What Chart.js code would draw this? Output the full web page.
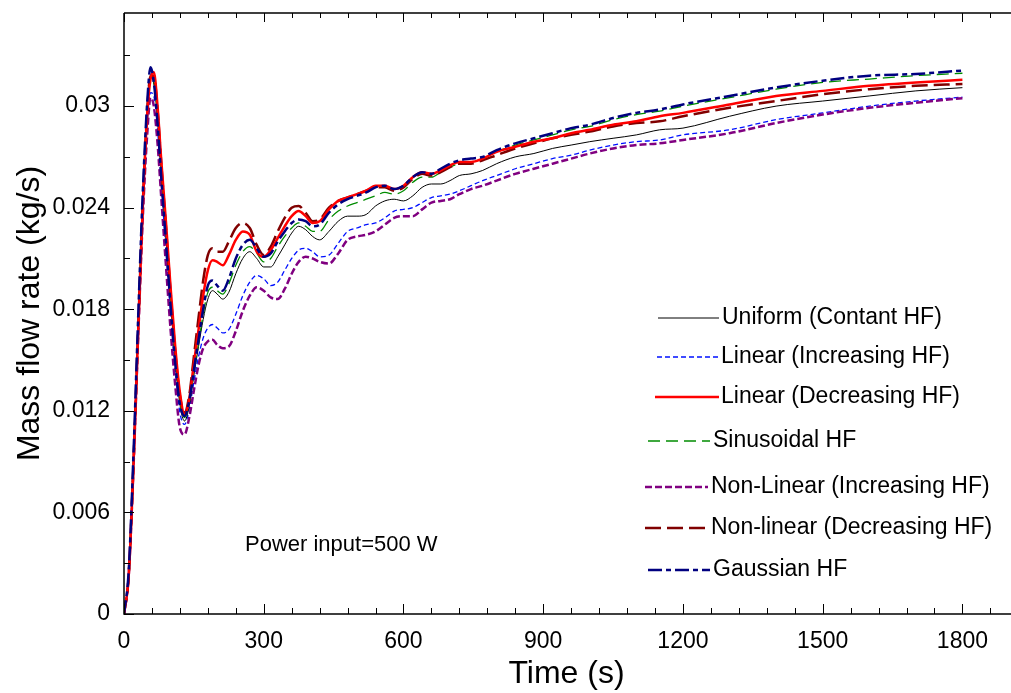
<!DOCTYPE html>
<html>
<head>
<meta charset="utf-8">
<title>Mass flow rate vs time</title>
<script src="https://cdn.jsdelivr.net/npm/chart.js@4.4.1/dist/chart.umd.min.js"></script>
<style>
  html, body { margin: 0; padding: 0; background: #fff; }
  #wrap { width: 1011px; height: 693px; }
</style>
</head>
<body>
<div id="wrap"><canvas id="flowChart" width="1011" height="693"></canvas></div>
<script>
// ---------------- data ----------------
const timeS = [
  0, 10, 20, 30, 40, 50, 57, 64, 72, 80,
  90, 100, 110, 120, 130, 140, 150, 160, 170, 180,
  190, 200, 212, 225, 240, 255, 270, 285, 300, 315,
  330, 345, 360, 375, 390, 405, 420, 440, 460, 480,
  500, 520, 540, 560, 580, 600, 620, 640, 660, 680,
  700, 720, 745, 770, 800, 840, 880, 920, 960, 1000,
  1050, 1100, 1150, 1200, 1300, 1400, 1500, 1600, 1700, 1800
];

const uniformHF = [
  0, 0.0023, 0.0088, 0.0168, 0.0242, 0.0299, 0.0317, 0.0313, 0.0293, 0.0261,
  0.0223, 0.0185, 0.0150, 0.0124, 0.0114, 0.0123, 0.0141, 0.0158, 0.0174, 0.0186,
  0.0191, 0.0189, 0.0186, 0.0190, 0.0201, 0.0210, 0.0214, 0.0210, 0.0205, 0.0205,
  0.0211, 0.0218, 0.0225, 0.0229, 0.0227, 0.0223, 0.0221, 0.0226, 0.0232, 0.0235,
  0.0235, 0.0236, 0.0241, 0.0244, 0.0245, 0.0244, 0.0247, 0.0252, 0.0254, 0.0254,
  0.0256, 0.0259, 0.0260, 0.0262, 0.0266, 0.0270, 0.0272, 0.0275, 0.0277, 0.0279,
  0.0281, 0.0283, 0.0286, 0.0287, 0.0294, 0.0300, 0.0303, 0.0306, 0.0309, 0.03109
];

const linearIncHF = [
  0, 0.0023, 0.0087, 0.0165, 0.0238, 0.0290, 0.0308, 0.0306, 0.0286, 0.0254,
  0.0215, 0.0178, 0.0144, 0.0119, 0.0112, 0.0121, 0.0137, 0.0152, 0.0163, 0.0169,
  0.0171, 0.0169, 0.0166, 0.0168, 0.0177, 0.0188, 0.0196, 0.0200, 0.0198, 0.0194,
  0.0196, 0.0203, 0.0210, 0.0215, 0.0216, 0.0214, 0.0211, 0.0212, 0.0219, 0.0226,
  0.0228, 0.0230, 0.0231, 0.0234, 0.0238, 0.0239, 0.0240, 0.0243, 0.0246, 0.0247,
  0.0248, 0.0250, 0.0253, 0.0256, 0.0259, 0.0263, 0.0266, 0.0269, 0.0271, 0.0274,
  0.0277, 0.0279, 0.0280, 0.0283, 0.0286, 0.0292, 0.0296, 0.0300, 0.0303, 0.03053
];

const linearDecHF = [
  0, 0.0022, 0.0085, 0.0163, 0.0238, 0.0296, 0.0316, 0.0320, 0.0300, 0.0268,
  0.0232, 0.0193, 0.0158, 0.0131, 0.0118, 0.0127, 0.0148, 0.0168, 0.0188, 0.0203,
  0.0209, 0.0208, 0.0206, 0.0212, 0.0221, 0.0226, 0.0224, 0.0214, 0.0211, 0.0215,
  0.0222, 0.0229, 0.0235, 0.0238, 0.0235, 0.0231, 0.0232, 0.0239, 0.0244, 0.0246,
  0.0248, 0.0250, 0.0253, 0.0253, 0.0251, 0.0253, 0.0258, 0.0261, 0.0260, 0.0262,
  0.0265, 0.0267, 0.0267, 0.0269, 0.0273, 0.0276, 0.0279, 0.0281, 0.0284, 0.0286,
  0.0289, 0.0291, 0.0294, 0.0296, 0.0301, 0.0306, 0.0309, 0.0312, 0.0314, 0.03155
];

const sinusoidalHF = [
  0, 0.0024, 0.0090, 0.0170, 0.0244, 0.0300, 0.0318, 0.0315, 0.0294, 0.0262,
  0.0224, 0.0186, 0.0151, 0.0126, 0.0116, 0.0125, 0.0143, 0.0160, 0.0177, 0.0190,
  0.0193, 0.0191, 0.0189, 0.0195, 0.0206, 0.0214, 0.0217, 0.0213, 0.0208, 0.0210,
  0.0217, 0.0223, 0.0228, 0.0231, 0.0229, 0.0226, 0.0226, 0.0233, 0.0238, 0.0241,
  0.0243, 0.0245, 0.0247, 0.0249, 0.0248, 0.0250, 0.0255, 0.0258, 0.0258, 0.0261,
  0.0264, 0.0266, 0.0267, 0.0269, 0.0273, 0.0277, 0.0280, 0.0283, 0.0286, 0.0288,
  0.0292, 0.0295, 0.0297, 0.0300, 0.0305, 0.0310, 0.0314, 0.0316, 0.0318, 0.03194
];

const nonLinIncHF = [
  0, 0.0022, 0.0084, 0.0160, 0.0232, 0.0284, 0.0305, 0.0300, 0.0278, 0.0246,
  0.0206, 0.0168, 0.0135, 0.0110, 0.0106, 0.0116, 0.0132, 0.0147, 0.0157, 0.0161,
  0.0162, 0.0159, 0.0157, 0.0158, 0.0167, 0.0179, 0.0188, 0.0193, 0.0191, 0.0187,
  0.0186, 0.0192, 0.0201, 0.0208, 0.0211, 0.0210, 0.0208, 0.0207, 0.0213, 0.0221,
  0.0223, 0.0224, 0.0226, 0.0230, 0.0234, 0.0235, 0.0235, 0.0239, 0.0243, 0.0244,
  0.0245, 0.0248, 0.0251, 0.0253, 0.0256, 0.0260, 0.0263, 0.0266, 0.0269, 0.0272,
  0.0275, 0.0277, 0.0278, 0.0280, 0.0284, 0.0290, 0.0295, 0.0299, 0.0302, 0.03047
];

const nonLinDecHF = [
  0, 0.0022, 0.0086, 0.0165, 0.0240, 0.0298, 0.0318, 0.0318, 0.0298, 0.0266,
  0.0229, 0.0190, 0.0155, 0.0129, 0.0119, 0.0129, 0.0152, 0.0175, 0.0197, 0.0212,
  0.0216, 0.0214, 0.0214, 0.0220, 0.0228, 0.0231, 0.0228, 0.0218, 0.0212, 0.0217,
  0.0226, 0.0234, 0.0240, 0.0241, 0.0237, 0.0232, 0.0233, 0.0240, 0.0244, 0.0246,
  0.0248, 0.0250, 0.0252, 0.0252, 0.0250, 0.0252, 0.0257, 0.0260, 0.0259, 0.0261,
  0.0264, 0.0266, 0.0266, 0.0268, 0.0271, 0.0275, 0.0278, 0.0281, 0.0283, 0.0285,
  0.0288, 0.0290, 0.0291, 0.0294, 0.0299, 0.0303, 0.0307, 0.0310, 0.0312, 0.03131
];

const gaussianHF = [
  0, 0.0025, 0.0092, 0.0172, 0.0247, 0.0303, 0.0323, 0.0314, 0.0290, 0.0258,
  0.0220, 0.0182, 0.0148, 0.0124, 0.0117, 0.0126, 0.0144, 0.0162, 0.0180, 0.0194,
  0.0197, 0.0194, 0.0191, 0.0198, 0.0210, 0.0218, 0.0221, 0.0216, 0.0211, 0.0213,
  0.0220, 0.0226, 0.0231, 0.0233, 0.0232, 0.0229, 0.0230, 0.0237, 0.0242, 0.0245,
  0.0247, 0.0249, 0.0252, 0.0253, 0.0251, 0.0253, 0.0258, 0.0261, 0.0260, 0.0263,
  0.0266, 0.0268, 0.0269, 0.0270, 0.0274, 0.0278, 0.0281, 0.0284, 0.0287, 0.0289,
  0.0293, 0.0296, 0.0298, 0.0301, 0.0306, 0.0311, 0.0315, 0.0318, 0.0319, 0.0321
];

const xTickValues = [0, 300, 600, 900, 1200, 1500, 1800];
const yTickValues = [0, 0.006, 0.012, 0.018, 0.024, 0.03];
const yTickLabels = ['0', '0.006', '0.012', '0.018', '0.024', '0.03'];

const noteText = 'Power input=500 W';

// ---------------- chart ----------------
const FONT = "'Liberation Sans', Arial, sans-serif";
Chart.defaults.font.family = FONT;
Chart.defaults.color = '#000';

function toPoints(vals) {
  return timeS.map((t, i) => ({ x: t, y: vals[i] }));
}

// white background
const whiteBg = {
  id: 'whiteBg',
  beforeDraw(chart) {
    const ctx = chart.ctx;
    ctx.save();
    ctx.fillStyle = '#fff';
    ctx.fillRect(0, 0, chart.width, chart.height);
    ctx.restore();
  }
};

// axis lines + inward major/minor ticks (bottom, top, left)
const axisFrame = {
  id: 'axisFrame',
  afterDatasetsDraw(chart) {
    const { ctx, chartArea: a, scales: { x, y } } = chart;
    ctx.save();
    ctx.strokeStyle = '#000';
    ctx.lineWidth = 1.5;
    ctx.beginPath();
    ctx.moveTo(a.left, a.top);
    ctx.lineTo(a.left, a.bottom);
    ctx.lineTo(chart.width, a.bottom);
    ctx.moveTo(a.left, a.top);
    ctx.lineTo(chart.width, a.top);
    ctx.stroke();

    ctx.lineWidth = 1;
    ctx.beginPath();
    for (let i = 0; i * 60 <= x.max; i++) {
      const px = Math.round(x.getPixelForValue(i * 60)) + 0.5;
      const major = i % 5 === 0;
      ctx.moveTo(px, a.bottom);
      ctx.lineTo(px, a.bottom - (major ? 10 : 6));
      ctx.moveTo(px, a.top);
      ctx.lineTo(px, a.top + (major ? 9 : 5));
    }
    for (let i = 0; i * 0.003 <= y.max + 1e-9; i++) {
      const py = Math.round(y.getPixelForValue(i * 0.003)) + 0.5;
      const major = i % 2 === 0;
      ctx.moveTo(a.left, py);
      ctx.lineTo(a.left + (major ? 10 : 6), py);
    }
    ctx.stroke();
    ctx.restore();
  }
};

// legend drawn inside the plot like the original
const legendRows = [
  { y: 318, x0: 658, x1: 719, tx: 722 },
  { y: 357, x0: 657, x1: 718, tx: 721 },
  { y: 397, x0: 655, x1: 719, tx: 721 },
  { y: 441, x0: 648, x1: 710, tx: 713 },
  { y: 487, x0: 645, x1: 708, tx: 711 },
  { y: 528, x0: 645, x1: 708, tx: 711 },
  { y: 570, x0: 648, x1: 710, tx: 713 }
];

const insideLegend = {
  id: 'insideLegend',
  afterDraw(chart) {
    const ctx = chart.ctx;
    ctx.save();
    chart.data.datasets.forEach((ds, i) => {
      const r = legendRows[i];
      ctx.strokeStyle = ds.borderColor;
      ctx.lineWidth = ds.borderWidth;
      ctx.setLineDash(ds.borderDash || []);
      ctx.beginPath();
      ctx.moveTo(r.x0, r.y);
      ctx.lineTo(r.x1, r.y);
      ctx.stroke();
      ctx.setLineDash([]);
      ctx.fillStyle = '#000';
      ctx.font = '23px ' + FONT;
      ctx.textAlign = 'left';
      ctx.textBaseline = 'middle';
      ctx.fillText(ds.label, r.tx, r.y);
    });
    ctx.font = '22px ' + FONT;
    ctx.fillText(noteText, 245, 545);
    ctx.restore();
  }
};

const seriesDefs = [
  { label: 'Uniform (Contant HF)',         vals: uniformHF,   color: '#000000', width: 1,   dash: [],            order: 4 },
  { label: 'Linear (Increasing HF)',       vals: linearIncHF, color: '#0010ff', width: 1.3, dash: [5, 3],        order: 6 },
  { label: 'Linear (Decreasing HF)',       vals: linearDecHF, color: '#ff0000', width: 2.5, dash: [],            order: 1 },
  { label: 'Sinusoidal HF',                vals: sinusoidalHF,color: '#008c00', width: 1.3, dash: [12, 6],       order: 3 },
  { label: 'Non-Linear (Increasing HF)',   vals: nonLinIncHF, color: '#800080', width: 2.5, dash: [7, 3],        order: 5 },
  { label: 'Non-linear (Decreasing HF)',   vals: nonLinDecHF, color: '#800000', width: 2.5, dash: [16, 6],       order: 2 },
  { label: 'Gaussian HF',                  vals: gaussianHF,  color: '#000080', width: 2.5, dash: [14, 4, 5, 4], order: 0 }
];

new Chart(document.getElementById('flowChart'), {
  type: 'line',
  data: {
    datasets: seriesDefs.map(s => ({
      label: s.label,
      data: toPoints(s.vals),
      borderColor: s.color,
      backgroundColor: s.color,
      borderWidth: s.width,
      borderDash: s.dash,
      order: s.order,
      pointRadius: 0,
      fill: false,
      cubicInterpolationMode: 'monotone'
    }))
  },
  options: {
    responsive: false,
    devicePixelRatio: 1,
    animation: false,
    layout: { padding: { top: 13, right: 2, left: 0, bottom: 0 } },
    plugins: {
      legend: { display: false },
      tooltip: { enabled: false }
    },
    scales: {
      x: {
        type: 'linear',
        min: 0,
        max: 1900,
        afterBuildTicks: s => { s.ticks = xTickValues.map(v => ({ value: v })); },
        afterFit: s => { s.height = 79; s.paddingLeft = 0; s.paddingRight = 0; },
        grid: { display: false, drawTicks: false },
        border: { display: false },
        ticks: {
          font: { size: 23 },
          color: '#000',
          padding: 14,
          maxRotation: 0,
          autoSkip: false,
          callback: v => String(v)
        },
        title: {
          display: true,
          text: 'Time (s)',
          font: { size: 32 },
          color: '#000',
          padding: { top: 0, bottom: 0 }
        }
      },
      y: {
        type: 'linear',
        min: 0,
        max: 0.0355,
        afterBuildTicks: s => { s.ticks = yTickValues.map(v => ({ value: v })); },
        afterFit: s => { s.width = 124; s.paddingTop = 0; s.paddingBottom = 0; },
        grid: { display: false, drawTicks: false },
        border: { display: false },
        ticks: {
          font: { size: 23 },
          color: '#000',
          padding: 14,
          autoSkip: false,
          callback: (v, i) => yTickLabels[i]
        },
        title: {
          display: true,
          text: 'Mass flow rate (kg/s)',
          font: { size: 32 },
          color: '#000',
          padding: { top: 11, bottom: 0 }
        }
      }
    }
  },
  plugins: [whiteBg, axisFrame, insideLegend]
});
</script>
</body>
</html>
